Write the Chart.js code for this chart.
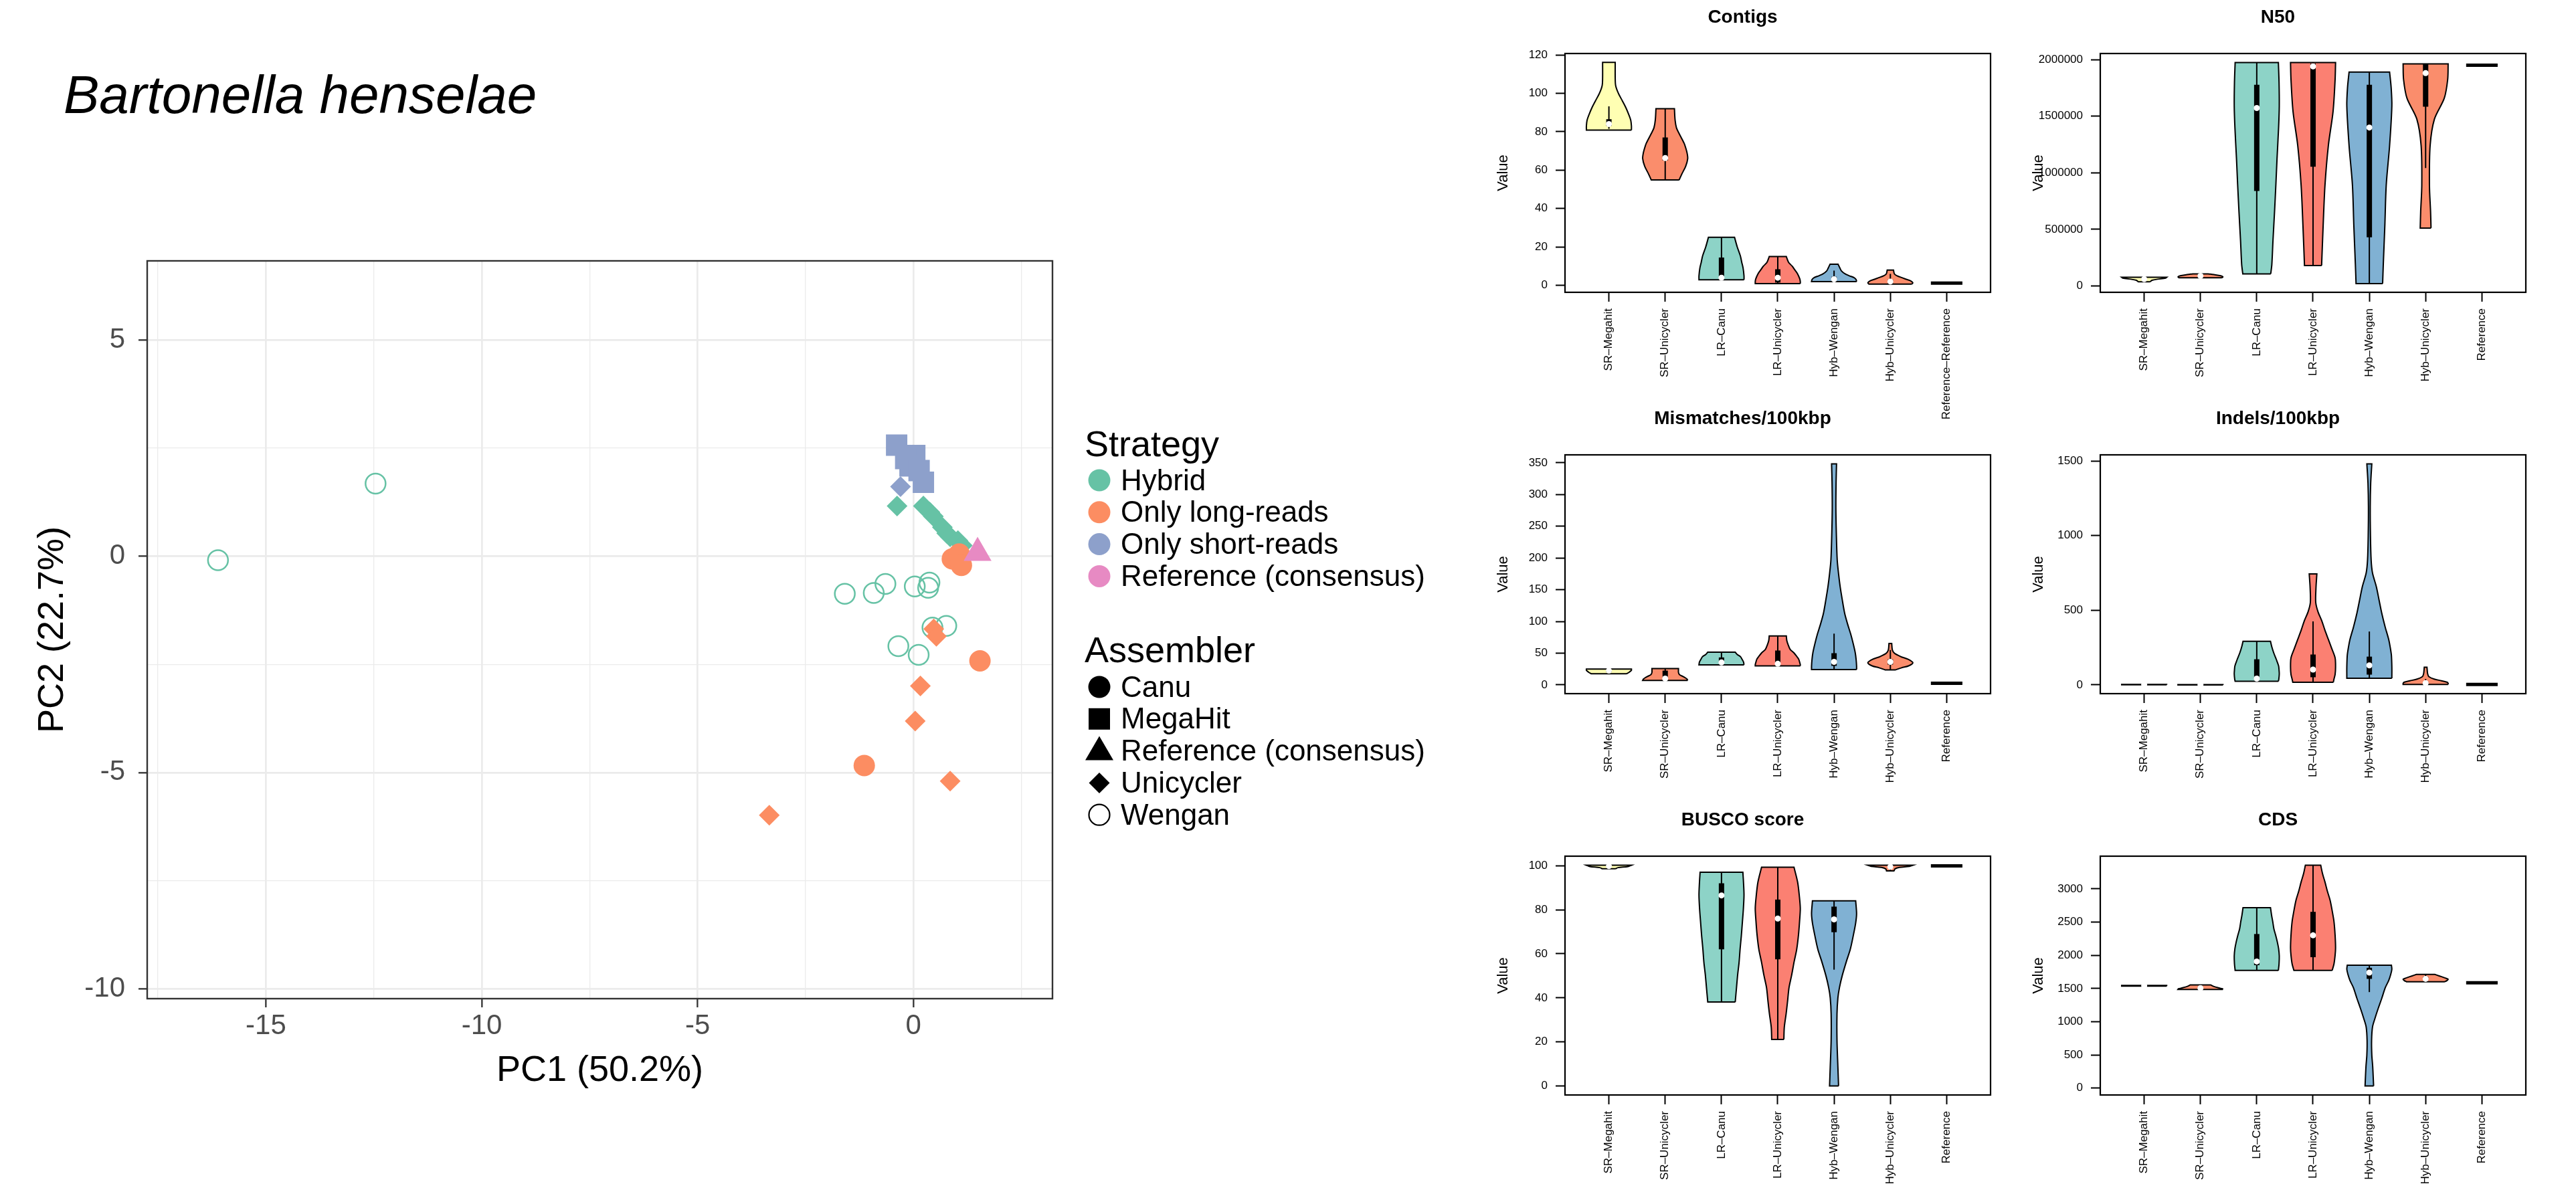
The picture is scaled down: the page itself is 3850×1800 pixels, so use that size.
<!DOCTYPE html>
<html>
<head>
<meta charset="utf-8">
<script src="https://cdn.jsdelivr.net/npm/chart.js@4.4.0/dist/chart.umd.min.js"></script>
<style>
html,body{margin:0;padding:0;background:#fff;overflow:hidden;}
#page{position:relative;width:3850px;height:1800px;overflow:hidden;background:#fff;}
canvas{position:absolute;}
#overlay{position:absolute;left:0;top:0;pointer-events:none;}
</style>
</head>
<body>
<div id="page">
<canvas id="pca" width="1600" height="1400" style="left:0px;top:300px;width:1600px;height:1400px"></canvas>
<canvas id="v0" width="756" height="637" style="left:2234px;top:0px;width:756px;height:637px"></canvas>
<canvas id="v1" width="756" height="637" style="left:3034px;top:0px;width:756px;height:637px"></canvas>
<canvas id="v2" width="756" height="637" style="left:2234px;top:600px;width:756px;height:637px"></canvas>
<canvas id="v3" width="756" height="637" style="left:3034px;top:600px;width:756px;height:637px"></canvas>
<canvas id="v4" width="756" height="637" style="left:2234px;top:1200px;width:756px;height:637px"></canvas>
<canvas id="v5" width="756" height="637" style="left:3034px;top:1200px;width:756px;height:637px"></canvas>
<svg id="overlay" width="3850" height="1800" xmlns="http://www.w3.org/2000/svg"></svg>
</div>
<script>
// ---------------- PCA data ----------------
const hybUnicyclerPts = [[-0.38,1.16],[0.23,1.16],[0.38,1.02],[0.46,0.92],[0.67,0.67],[0.77,0.53],[0.85,0.45],[1.03,0.36],[1.13,0.25]];
const hybWenganPts = [[-16.11,-0.09],[-12.46,1.68],[-1.59,-0.87],[-0.92,-0.85],[-0.65,-0.64],[0.03,-0.70],[0.37,-0.61],[0.34,-0.73],[0.44,-1.65],[0.76,-1.61],[-0.35,-2.08],[0.12,-2.28]];
const lrCanuPts = [[0.90,-0.06],[1.06,0.05],[1.11,-0.21],[1.54,-2.42],[-1.14,-4.84]];
const lrUnicyclerPts = [[0.47,-1.68],[0.53,-1.85],[0.16,-3.00],[0.04,-3.81],[0.85,-5.20],[-3.34,-5.99]];
const srMegahitPts = [[-0.39,2.57],[0.03,2.33],[-0.18,2.26],[-0.08,2.09],[0.13,1.98],[0.23,1.71]];
const srUnicyclerPts = [[-0.30,1.61]];
const referencePts = [[1.485,0.08]];
const pcaXTicks = [-17.5,-15,-12.5,-10,-7.5,-5,-2.5,0,2.5];
const pcaYTicks = [-10,-7.5,-5,-2.5,0,2.5,5];

const strategyLabels = ['Hybrid','Only long-reads','Only short-reads','Reference (consensus)'];
const assemblerLabels = ['Canu','MegaHit','Reference (consensus)','Unicycler','Wengan'];

// ---------------- Violin data ----------------
const violinCategories = ['SR\u2013Megahit','SR\u2013Unicycler','LR\u2013Canu','LR\u2013Unicycler','Hyb\u2013Wengan','Hyb\u2013Unicycler','Reference'];
const contigsCategories = ['SR\u2013Megahit','SR\u2013Unicycler','LR\u2013Canu','LR\u2013Unicycler','Hyb\u2013Wengan','Hyb\u2013Unicycler','Reference\u2013Reference'];

// profiles: [value, relative density]; boxes: [low whisker, Q1, median, Q3, high whisker]
const contigsProfiles = [
  [[80.8,1.0],[83,1.0],[86,0.97],[89,0.88],[92.6,0.75],[96,0.6],[100,0.42],[104,0.3],[108,0.28],[116.1,0.28]],
  [[54.9,0.62],[58,0.74],[62,0.91],[66,1.0],[69,0.97],[72,0.9],[74,0.84],[79,0.62],[82,0.5],[86,0.44],[92,0.41]],
  [[2.9,1.0],[5,1.0],[9,0.96],[12,0.9],[15.3,0.84],[20,0.7],[25,0.58]],
  [[0.93,1.0],[2,1.0],[3.3,0.98],[6,0.88],[8,0.76],[10,0.64],[12,0.48],[15,0.38]],
  [[2,1.0],[3,0.98],[4,0.89],[5,0.68],[6,0.49],[7.5,0.33],[9,0.26],[11,0.18]],
  [[0.67,0.95],[1.3,1.0],[2.4,0.9],[3.2,0.7],[4,0.52],[5,0.3],[6,0.18],[8,0.14]]
];
const contigsBoxes = [[81.5,83,84,86.5,93.2],[54.9,65,66.3,77,92],[2.9,3.5,4,14.5,25],[0.93,1.5,4,8.4,15],[2,2.5,3.2,4.5,7.7],[0.67,1,2,3,6]];
const contigsRef = 1.2;
const contigsTicks = [0,20,40,60,80,100,120];

const n50Profiles = [
  [[37000,0.26],[50000,0.35],[60000,0.6],[70000,0.95],[77000,1.0]],
  [[72000,0.95],[80000,1.0],[90000,0.9],[100000,0.6],[107000,0.35]],
  [[107000,0.62],[190000,0.67],[400000,0.72],[657000,0.79],[900000,0.85],[1124000,0.9],[1400000,0.97],[1590000,1.0],[1800000,0.99],[1974000,0.96]],
  [[180000,0.38],[540000,0.45],[890000,0.53],[1241000,0.68],[1544000,0.89],[1825000,0.98],[1974000,1.0]],
  [[21000,0.59],[190000,0.62],[540000,0.69],[890000,0.75],[1240000,0.9],[1590000,1.0],[1750000,0.97],[1890000,0.9]],
  [[512000,0.24],[657000,0.22],[890000,0.17],[1240000,0.2],[1474000,0.39],[1660000,0.83],[1825000,0.98],[1963000,1.0]]
];
const n50Boxes = [[37000,50000,61000,70000,77000],[72000,80000,89000,98000,107000],[107000,839000,1572000,1778000,1974000],[180000,1054000,1940000,1965000,1974000],[21000,430000,1400000,1778000,1890000],[1042000,1584000,1881000,1963000,1963000]];
const n50Ref = 1951000;
const n50Ticks = [0,500000,1000000,1500000,2000000];

const mismProfiles = [
  [[17.5,0.78],[20,0.9],[23,1.0],[25,1.0]],
  [[7.1,1.0],[9.2,0.97],[11,0.9],[13.3,0.79],[16,0.64],[19.6,0.59],[25.8,0.59]],
  [[31.7,1.0],[36,0.98],[40,0.92],[44.6,0.84],[48,0.7],[51.7,0.61]],
  [[30,1.0],[32,1.0],[36,0.97],[40.4,0.93],[45,0.84],[50.8,0.71],[56,0.55],[63.3,0.46],[70,0.4],[77.1,0.38]],
  [[24.2,1.0],[30,1.0],[40,0.98],[50.8,0.94],[65,0.85],[80,0.74],[96,0.6],[113,0.47],[135,0.36],[155,0.27],[175,0.2],[196.7,0.14],[240,0.1],[280,0.08],[320,0.09],[348.3,0.11]],
  [[23.75,0.24],[27,0.5],[30,0.81],[35,1.0],[40.4,0.79],[44,0.5],[46.7,0.34],[50,0.18],[55,0.09],[65.4,0.06]]
];
const mismBoxes = [[17.5,20,22.5,24,25],[7.1,9.5,10,22.5,25.8],[31.7,34.2,35.4,43.3,51.7],[30,32,33.3,54.2,77.1],[24.2,30,36.3,50,80.8],[23.75,32,36.3,40.4,55]];
const mismRef = 2.5;
const mismTicks = [0,50,100,150,200,250,300,350];

const indelProfiles = [
  [[0.5,1.0],[3,1.0]],
  [[0,1.0],[2,1.0]],
  [[24.8,0.96],[39,0.98],[74,1.0],[100,0.99],[127.5,0.97],[170,0.87],[216,0.75],[260,0.66],[292,0.61]],
  [[17.7,0.9],[39,0.93],[70,0.98],[120,1.0],[180.6,0.98],[240,0.84],[304.6,0.68],[370,0.52],[428.5,0.39],[490,0.22],[552,0.12],[650,0.13],[743.8,0.17]],
  [[44.3,1.0],[56.7,1.0],[120,1.0],[198.3,0.98],[250,0.93],[304.6,0.86],[390,0.7],[481.7,0.55],[570,0.43],[658.7,0.31],[750,0.14],[835.8,0.08],[1000,0.05],[1190,0.04],[1350,0.06],[1480.4,0.11]],
  [[3.5,1.0],[10,1.0],[17.7,0.96],[28,0.7],[39,0.38],[55,0.15],[74.4,0.09],[118.6,0.06]]
];
const indelBoxes = [[0.5,1,1.75,2.5,3],[0,0.5,1,1.5,2],[24.8,35,42.5,171.8,292],[17.7,51.4,102.7,203.6,425],[44.3,69,131,189.5,357.7],[3.5,6,12.4,20,40]];
const indelRef = 3.5;
const indelTicks = [0,500,1000,1500];

const buscoProfiles = [
  [[98.6,0.3],[99.1,0.4],[99.6,0.85],[100.2,1.0]],
  null,
  [[38.1,0.61],[45,0.67],[50.7,0.72],[56,0.78],[62.6,0.83],[68,0.88],[74.6,0.93],[80,0.97],[86.6,1.0],[92,0.98],[97,0.95]],
  [[21.1,0.27],[26.7,0.29],[32.7,0.37],[38,0.43],[44.7,0.5],[50,0.61],[56.6,0.73],[62,0.84],[68.6,0.92],[75,0.97],[80.6,1.0],[86,0.96],[92.6,0.88],[99.3,0.72]],
  [[0,0.2],[8.7,0.17],[20.7,0.13],[32.7,0.13],[40,0.17],[44.7,0.24],[50,0.36],[56.6,0.55],[62,0.72],[68.6,0.86],[74,0.96],[78.2,1.0],[84,0.96]],
  [[97.6,0.17],[98.5,0.2],[99.2,0.4],[99.7,0.85],[100.2,1.0]]
];
const buscoBoxes = [[98.6,99.5,99.8,100,100.2],null,[38.1,62,86.5,92,97],[21.1,57.5,76,84.6,99.3],[52.8,69.8,75.6,81.4,84],[97.6,99.2,99.5,100,100.2]];
const buscoRef = 99.9;
const buscoTicks = [0,20,40,60,80,100];

const cdsProfiles = [
  [[1536,1.0],[1546,1.0]],
  [[1486,1.0],[1495,0.98],[1510,0.8],[1530,0.6],[1553,0.46]],
  [[1772,0.96],[1871,0.99],[1990,1.0],[2100,0.97],[2189,0.92],[2300,0.84],[2400,0.76],[2507,0.71],[2600,0.66],[2717.5,0.61]],
  [[1772,0.85],[1871,0.93],[2000,0.98],[2110,1.0],[2300,0.98],[2507,0.93],[2650,0.86],[2825,0.76],[2960,0.64],[3103,0.53],[3230,0.42],[3357,0.34]],
  [[32,0.19],[322,0.15],[500,0.11],[719,0.1],[918,0.14],[1050,0.25],[1196,0.39],[1350,0.55],[1514,0.71],[1620,0.86],[1712,0.95],[1790,1.0],[1851,0.98]],
  [[1601,0.85],[1620,0.95],[1641,1.0],[1660,0.85],[1690,0.6],[1712,0.41]]
];
const cdsBoxes = [[1536,1538,1541,1544,1546],[1486,1495,1506,1530,1553],[1772,1851,1907,2320,2717.5],[1772,1971,2300,2654,3357],[1446,1645,1740,1812,1851],[1601,1630,1645,1680,1712]];
const cdsRef = 1585;
const cdsTicks = [0,500,1000,1500,2000,2500,3000];

// ---------------- styles ----------------
const FONT = "'Liberation Sans', Arial, Helvetica, sans-serif";
Chart.defaults.font.family = FONT;
Chart.defaults.color = '#000';
const SET2 = {hybrid:'#66C2A5', long:'#FC8D62', short:'#8DA0CB', ref:'#E78AC3'};
const VCOL = ['#FFFFB3','#FA8D6C','#8DD3C7','#FB8072','#80B1D3','#FA8D6C'];
const VIOLIN_HALF = 0.4;
const REF_HALF = 0.28;

const framePlugin = {
  id: 'frame',
  afterDraw(chart, args, opts) {
    const {ctx, chartArea: a} = chart;
    ctx.save();
    ctx.strokeStyle = opts.color || '#000';
    ctx.lineWidth = opts.width || 2;
    ctx.strokeRect(a.left, a.top, a.right - a.left, a.bottom - a.top);
    ctx.restore();
  }
};

// ---------------- PCA chart ----------------
const isMajor = v => Math.abs(v % 5) < 1e-9;
const pcaGroups = [
  {pts: referencePts, color: SET2.ref, style: 'triangle', r: 24, open: false, order: 0},
  {pts: lrCanuPts, color: SET2.long, style: 'circle', r: 16, open: false, order: 1},
  {pts: lrUnicyclerPts, color: SET2.long, style: 'rectRot', r: 15.5, open: false, order: 2},
  {pts: hybUnicyclerPts, color: SET2.hybrid, style: 'rectRot', r: 15.5, open: false, order: 3},
  {pts: srUnicyclerPts, color: SET2.short, style: 'rectRot', r: 15.5, open: false, order: 4},
  {pts: srMegahitPts, color: SET2.short, style: 'rect', r: 22.6, open: false, order: 5},
  {pts: hybWenganPts, color: SET2.hybrid, style: 'circle', r: 15, open: true, order: 6}
];
new Chart(document.getElementById('pca'), {
  type: 'scatter',
  data: {
    datasets: pcaGroups.map(g => ({
      data: g.pts.map(([x, y]) => ({x, y})),
      pointStyle: g.style,
      pointRadius: g.r,
      pointHoverRadius: g.r,
      pointBackgroundColor: g.open ? 'rgba(0,0,0,0)' : g.color,
      pointBorderColor: g.color,
      pointBorderWidth: g.open ? 2.5 : 0,
      order: g.order
    }))
  },
  options: {
    responsive: false, animation: false, devicePixelRatio: 1,
    layout: {padding: {top: 90, right: 27, left: 0, bottom: 0}},
    plugins: {legend: {display: false}, tooltip: {enabled: false}, frame: {color: '#333333', width: 2.4}},
    scales: {
      x: {
        type: 'linear', min: -17.75, max: 3.22,
        afterBuildTicks: s => { s.ticks = pcaXTicks.map(v => ({value: v})); },
        afterFit: s => { s.height = 207; },
        border: {display: false},
        grid: {
          color: '#EBEBEB',
          lineWidth: c => (c.tick && isMajor(c.tick.value)) ? 2.7 : 1.3,
          tickLength: 13, tickWidth: 2.3,
          tickColor: c => (c.tick && isMajor(c.tick.value)) ? '#333333' : 'rgba(0,0,0,0)'
        },
        ticks: {font: {size: 42}, color: '#4D4D4D', padding: 3, autoSkip: false, maxRotation: 0,
          callback: v => isMajor(v) ? String(v) : ''},
        title: {display: true, text: 'PC1 (50.2%)', font: {size: 54}, color: '#000', padding: {top: 0, bottom: 66}}
      },
      y: {
        type: 'linear', min: -10.23, max: 6.83,
        afterBuildTicks: s => { s.ticks = pcaYTicks.map(v => ({value: v})); },
        afterFit: s => { s.width = 220; },
        border: {display: false},
        grid: {
          color: '#EBEBEB',
          lineWidth: c => (c.tick && isMajor(c.tick.value)) ? 2.7 : 1.3,
          tickLength: 13, tickWidth: 2.3,
          tickColor: c => (c.tick && isMajor(c.tick.value)) ? '#333333' : 'rgba(0,0,0,0)'
        },
        ticks: {font: {size: 42}, color: '#4D4D4D', padding: 20, autoSkip: false,
          callback: v => isMajor(v) ? String(v) : ''},
        title: {display: true, text: 'PC2 (22.7%)', font: {size: 54}, color: '#000', padding: {top: 47, bottom: 0}}
      }
    }
  },
  plugins: [framePlugin]
});

// ---------------- Violin charts ----------------
function violinOutline(prof, c) {
  const R = prof.map(([v, r]) => ({x: c + r * VIOLIN_HALF, y: v}));
  const L = prof.map(([v, r]) => ({x: c - r * VIOLIN_HALF, y: v}));
  const n = prof.length;
  const pts = [];
  for (let k = 0; k < n; k++) pts.push(R[k]);
  pts.push({...R[n - 1]});
  pts.push(L[n - 1]);
  pts.push({...L[n - 1]});
  for (let k = n - 2; k >= 0; k--) pts.push(L[k]);
  pts.push({...L[0]});
  pts.push({...R[0]});
  return pts;
}

const violinPanels = [
  {id: 'v0', title: 'Contigs', cats: contigsCategories, profiles: contigsProfiles, boxes: contigsBoxes, ref: contigsRef, ticks: contigsTicks, range: [-3.6, 120.7]},
  {id: 'v1', title: 'N50', cats: violinCategories, profiles: n50Profiles, boxes: n50Boxes, ref: n50Ref, ticks: n50Ticks, range: [-56000, 2054000]},
  {id: 'v2', title: 'Mismatches/100kbp', cats: violinCategories, profiles: mismProfiles, boxes: mismBoxes, ref: mismRef, ticks: mismTicks, range: [-13.75, 362.5]},
  {id: 'v3', title: 'Indels/100kbp', cats: violinCategories, profiles: indelProfiles, boxes: indelBoxes, ref: indelRef, ticks: indelTicks, range: [-58.4, 1540.7]},
  {id: 'v4', title: 'BUSCO score', cats: violinCategories, profiles: buscoProfiles, boxes: buscoBoxes, ref: buscoRef, ticks: buscoTicks, range: [-4.07, 104.3]},
  {id: 'v5', title: 'CDS', cats: violinCategories, profiles: cdsProfiles, boxes: cdsBoxes, ref: cdsRef, ticks: cdsTicks, range: [-103, 3492]}
];

violinPanels.forEach(p => {
  const datasets = [];
  p.profiles.forEach((prof, i) => {
    if (!prof) return;
    datasets.push({data: violinOutline(prof, i + 1), borderColor: '#000', borderWidth: 2,
      backgroundColor: VCOL[i], fill: 'shape', pointRadius: 0, pointHoverRadius: 0, tension: 0.3, order: 3});
  });
  p.boxes.forEach((b, i) => {
    if (!b) return;
    const c = i + 1;
    datasets.push({data: [{x: c, y: b[0]}, {x: c, y: b[4]}], borderColor: '#000', borderWidth: 2,
      pointRadius: 0, fill: false, tension: 0, order: 2});
    datasets.push({data: [{x: c, y: b[1]}, {x: c, y: b[3]}], borderColor: '#000', borderWidth: 8,
      borderCapStyle: 'butt', pointRadius: 0, fill: false, tension: 0, order: 1});
    datasets.push({data: [{x: c, y: b[2]}], showLine: false, pointRadius: 4.5, pointHoverRadius: 4.5,
      pointBackgroundColor: '#fff', pointBorderWidth: 0, order: 0});
  });
  const rc = p.cats.length;
  datasets.push({data: [{x: rc - REF_HALF, y: p.ref}, {x: rc + REF_HALF, y: p.ref}], borderColor: '#000',
    borderWidth: 5, borderCapStyle: 'butt', pointRadius: 0, fill: false, tension: 0, order: 0});

  new Chart(document.getElementById(p.id), {
    type: 'line',
    data: {datasets},
    options: {
      responsive: false, animation: false, devicePixelRatio: 1,
      layout: {padding: {top: 0, right: 15, left: 0, bottom: 0}},
      plugins: {
        legend: {display: false}, tooltip: {enabled: false},
        title: {display: true, text: p.title, font: {size: 28, weight: 'bold'}, color: '#000', padding: {top: 9.2, bottom: 37.2}},
        frame: {color: '#000', width: 2.2}
      },
      scales: {
        x: {
          type: 'linear', min: 0.22, max: 7.78,
          afterBuildTicks: s => { s.ticks = p.cats.map((_, i) => ({value: i + 1})); },
          afterFit: s => { s.height = 200; },
          border: {display: false},
          grid: {drawOnChartArea: false, drawTicks: true, tickLength: 14, tickWidth: 2, tickColor: '#000'},
          ticks: {autoSkip: false, minRotation: 90, maxRotation: 90, padding: 10, font: {size: 17}, color: '#000',
            callback: v => p.cats[Math.round(v) - 1]}
        },
        y: {
          type: 'linear', min: p.range[0], max: p.range[1],
          afterBuildTicks: s => { s.ticks = p.ticks.map(v => ({value: v})); },
          afterFit: s => { s.width = 105; },
          border: {display: false},
          grid: {drawOnChartArea: false, drawTicks: true, tickLength: 14, tickWidth: 2, tickColor: '#000'},
          ticks: {autoSkip: false, padding: 12, font: {size: 17}, color: '#000', callback: v => String(v)},
          title: {display: true, text: 'Value', font: {size: 22}, color: '#000', padding: {top: 0, bottom: 0}}
        }
      }
    },
    plugins: [framePlugin]
  });
});

// ---------------- Title & legend (SVG overlay) ----------------
const svg = document.getElementById('overlay');
const NS = 'http://www.w3.org/2000/svg';
function el(tag, attrs, text) {
  const e = document.createElementNS(NS, tag);
  for (const k in attrs) e.setAttribute(k, attrs[k]);
  if (text !== undefined) e.textContent = text;
  svg.appendChild(e);
  return e;
}
el('text', {x: 95, y: 169, 'font-size': 80, 'font-style': 'italic', 'font-family': FONT, fill: '#000'}, 'Bartonella henselae');

el('text', {x: 1621, y: 682, 'font-size': 54, 'font-family': FONT, fill: '#000'}, 'Strategy');
const stratColors = [SET2.hybrid, SET2.long, SET2.short, SET2.ref];
strategyLabels.forEach((lab, i) => {
  const cy = 718 + i * 47.8;
  el('circle', {cx: 1643, cy: cy, r: 16.5, fill: stratColors[i]});
  el('text', {x: 1675, y: cy + 14.5, 'font-size': 44, 'font-family': FONT, fill: '#000'}, lab);
});
el('text', {x: 1621, y: 990, 'font-size': 54, 'font-family': FONT, fill: '#000'}, 'Assembler');
assemblerLabels.forEach((lab, i) => {
  const cy = 1027 + i * 47.8;
  if (i === 0) el('circle', {cx: 1643, cy: cy, r: 16.5, fill: '#000'});
  if (i === 1) el('rect', {x: 1627, y: cy - 16, width: 32, height: 32, fill: '#000'});
  if (i === 2) el('polygon', {points: `1643,${cy - 22} 1622,${cy + 14} 1664,${cy + 14}`, fill: '#000'});
  if (i === 3) el('polygon', {points: `1643,${cy - 15.5} 1658.5,${cy} 1643,${cy + 15.5} 1627.5,${cy}`, fill: '#000'});
  if (i === 4) el('circle', {cx: 1643, cy: cy, r: 15.5, fill: 'none', stroke: '#000', 'stroke-width': 2.2});
  el('text', {x: 1675, y: cy + 14.5, 'font-size': 44, 'font-family': FONT, fill: '#000'}, lab);
});
</script>
</body>
</html>
